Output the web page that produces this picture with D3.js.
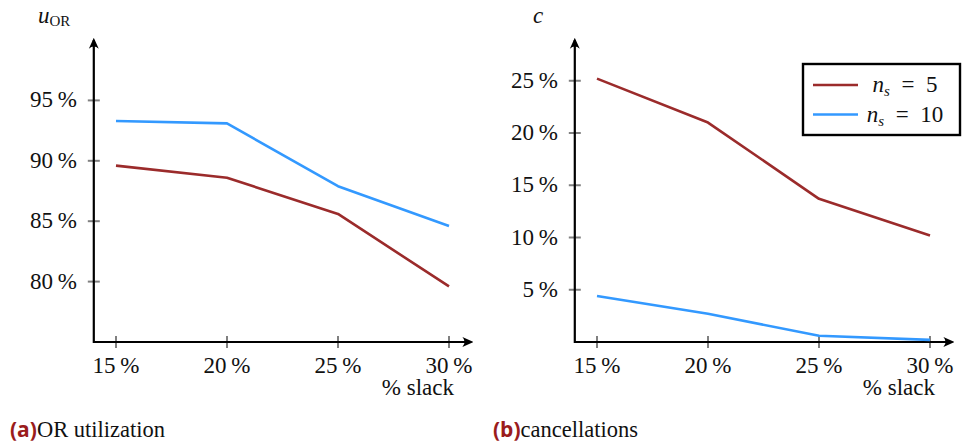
<!DOCTYPE html>
<html>
  <head>
    <style>
    body {
      margin: 0;
      background: #fff;
    }
    .tick-label, .axis-name {
      font-family: "Liberation Serif", "DejaVu Serif", serif;
      font-size: 23px;
      fill: #111;
    }
    .caption-main {
      font-family: "Liberation Serif", "DejaVu Serif", serif;
      font-size: 22.5px;
      fill: #111;
    }
    .caption-tag {
      font-family: "Open Sans", sans-serif;
      font-weight: bold;
      font-size: 21px;
      fill: #9b1c1c;
    }
    </style>
  </head>
  <body>
    <script src="https://d3js.org/d3.v7.min.js"></script>
    <script>

// data
var slack = [15, 20, 25, 30];
var utilNs5  = [89.6, 88.6, 85.6, 79.6];
var utilNs10 = [93.3, 93.1, 87.9, 84.6];
var cancNs5  = [25.2, 21.0, 13.7, 10.2];
var cancNs10 = [4.4, 2.7, 0.6, 0.2];
var utilTicks = [80, 85, 90, 95];
var cancTicks = [5, 10, 15, 20, 25];
var seriesNames = ["n_s = 5", "n_s = 10"];
var seriesColors = ["#9b2b2b", "#3399ff"];

var width = 962, height = 443;

var svg = d3.select("body").append("svg")
    .attr("width", width)
    .attr("height", height);

var defs = svg.append("defs");
defs.append("marker")
    .attr("id", "arrow")
    .attr("viewBox", "0 0 10 10")
    .attr("refX", 8)
    .attr("refY", 5)
    .attr("markerWidth", 11)
    .attr("markerHeight", 11)
    .attr("markerUnits", "userSpaceOnUse")
    .attr("orient", "auto")
  .append("path")
    .attr("d", "M0,0.5 Q4,5 0,9.5 L10,5 Z")
    .style("fill", "#000");

var panels = [
  {ox: 0, ymin: 75, ymax: 100, ticks: utilTicks, series: [utilNs5, utilNs10], name: "u", sub: "OR",
   tag: "(a)", caption: "OR utilization", legend: false},
  {ox: 481, ymin: 0, ymax: 28.9, ticks: cancTicks, series: [cancNs5, cancNs10], name: "c", sub: "",
   tag: "(b)", caption: "cancellations", legend: true}
];

panels.forEach(function(p){

  var g = svg.append("g").attr("transform", "translate(" + p.ox + ",0)");

  var x = d3.scaleLinear().domain([15, 30]).range([116, 449]);
  var y = d3.scaleLinear().domain([p.ymin, p.ymax]).range([342, 40]);

  // ticks (gray, drawn across the axis)
  g.selectAll(".ytick").data(p.ticks).enter().append("line")
      .attr("x1", x(14) - 6).attr("x2", x(14) + 6)
      .attr("y1", function(d){ return y(d); })
      .attr("y2", function(d){ return y(d); })
      .style("stroke", "#808080").style("stroke-width", 2);

  g.selectAll(".xtick").data(slack).enter().append("line")
      .attr("x1", function(d){ return x(d); })
      .attr("x2", function(d){ return x(d); })
      .attr("y1", y(p.ymin) - 6).attr("y2", y(p.ymin) + 6)
      .style("stroke", "#808080").style("stroke-width", 2);

  // axes with arrows
  g.append("path")
      .attr("d", "M" + x(14) + "," + y(p.ymin) + "H" + x(31))
      .style("stroke", "#000").style("stroke-width", 2.2).style("fill", "none")
      .attr("marker-end", "url(#arrow)");
  g.append("path")
      .attr("d", "M" + x(14) + "," + (y(p.ymin) + 1.1) + "V" + y(p.ymax))
      .style("stroke", "#000").style("stroke-width", 2.2).style("fill", "none")
      .attr("marker-end", "url(#arrow)");

  // tick labels
  g.selectAll(".ylab").data(p.ticks).enter().append("text")
      .attr("class", "tick-label")
      .attr("x", x(14) - 17)
      .attr("y", function(d){ return y(d) + 7; })
      .attr("text-anchor", "end")
      .text(function(d){ return d + "\u2009%"; });

  g.selectAll(".xlab").data(slack).enter().append("text")
      .attr("class", "tick-label")
      .attr("x", function(d){ return x(d); })
      .attr("y", 373)
      .attr("text-anchor", "middle")
      .text(function(d){ return d + "\u2009%"; });

  g.append("text")
      .attr("class", "tick-label")
      .attr("x", 454).attr("y", 395)
      .attr("text-anchor", "end")
      .text("% slack");

  // axis name
  var an = g.append("text").attr("class", "axis-name")
      .attr("x", p.sub ? 38 : 533 - p.ox).attr("y", 23);
  an.append("tspan").style("font-style", "italic").text(p.name);
  if (p.sub) {
    an.append("tspan").attr("dy", 3).style("font-size", "15px").text(p.sub);
  }

  // lines
  var line = d3.line()
      .x(function(d, i){ return x(slack[i]); })
      .y(function(d){ return y(d); });

  p.series.forEach(function(s, i){
    g.append("path")
        .datum(s)
        .attr("d", line)
        .style("fill", "none")
        .style("stroke", seriesColors[i])
        .style("stroke-width", 2.6)
        .style("stroke-linejoin", "round");
  });

  // caption
  var cap = g.append("text").attr("x", p.sub ? 10 : 12).attr("y", 437);
  cap.append("tspan").attr("class", "caption-tag").text(p.tag);
  cap.append("tspan").attr("class", "caption-main").text(p.caption);

  // legend
  if (p.legend) {
    var lg = svg.append("g");
    lg.append("rect")
        .attr("x", 803).attr("y", 64)
        .attr("width", 157).attr("height", 71)
        .style("fill", "#fff").style("stroke", "#000").style("stroke-width", 2.4);
    seriesNames.forEach(function(n, i){
      var ly = 85 + i * 29.5;
      lg.append("line")
          .attr("x1", 813).attr("x2", 858)
          .attr("y1", ly).attr("y2", ly)
          .style("stroke", seriesColors[i]).style("stroke-width", 2.6);
      var t = lg.append("text").attr("class", "axis-name")
          .attr("x", 905).attr("y", ly + 7)
          .attr("text-anchor", "middle");
      var parts = n.split(" = ");
      t.append("tspan").style("font-style", "italic").text("n");
      t.append("tspan").attr("dy", 4).style("font-size", "15px").style("font-style", "italic").text("s");
      t.append("tspan").attr("dy", -4).text("\u2002=\u2002" + parts[1]);
    });
  }
});

    </script>
  </body>
</html>
